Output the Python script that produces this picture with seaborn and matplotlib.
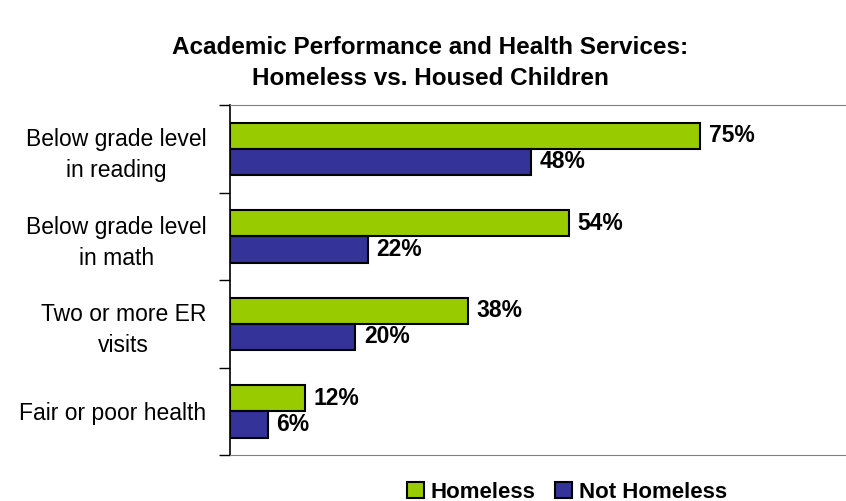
import pandas as pd
import matplotlib.pyplot as plt
import seaborn as sns

# Chart data
categories = ['Below grade level\nin reading', 'Below grade level\nin math',
              'Two or more ER\nvisits', 'Fair or poor health']
homeless = [75, 54, 38, 12]
not_homeless = [48, 22, 20, 6]
series_names = ['Homeless', 'Not Homeless']
colors = ['#99CC00', '#333399']

df = pd.DataFrame({
    'category': categories * 2,
    'value': homeless + not_homeless,
    'group': [series_names[0]] * len(categories) + [series_names[1]] * len(categories),
})

sns.set_style('white')
plt.rcParams['font.family'] = ['Liberation Sans', 'DejaVu Sans']
plt.rcParams['text.color'] = 'black'
plt.rcParams['ytick.color'] = 'black'
plt.rcParams['ytick.labelcolor'] = 'black'

fig = plt.figure(figsize=(8.46, 5.01), dpi=100)
ax = fig.add_axes([230 / 846, 1 - 455 / 501, 1 - 230 / 846, 350 / 501])

sns.barplot(data=df, y='category', x='value', hue='group', orient='h',
            palette=colors, width=0.6, edgecolor='black', linewidth=1.5,
            saturation=1, ax=ax, legend=True)

# value labels
for cont in ax.containers:
    ax.bar_label(cont, labels=[f'{v:.0f}%' for v in cont.datavalues],
                 padding=6, fontsize=16.5, fontweight='bold', color='black')

ax.set_xlim(0, 98.2)
ax.set_ylim(3.5, -0.5)
ax.set_xlabel('')
ax.set_ylabel('')
ax.set_xticks([])

# category ticks between groups, labels centered
ax.set_yticks([-0.5, 0.5, 1.5, 2.5, 3.5])
ax.set_yticklabels([])
ax.tick_params(axis='y', which='major', left=True, length=8, width=1, color='black')
ax.set_yticks(range(len(categories)), minor=True)
ax.set_yticklabels(categories, minor=True, fontsize=16.5, multialignment='center',
                   linespacing=1.45, color='black')
ax.tick_params(axis='y', which='minor', left=False, pad=15)

ax.spines['left'].set_color('black')
ax.spines['left'].set_linewidth(1.2)
ax.spines['top'].set_color('#808080')
ax.spines['bottom'].set_color('#808080')
ax.spines['right'].set_visible(False)

fig.text(430 / 846, 1 - 63 / 501,
         'Academic Performance and Health Services:\nHomeless vs. Housed Children',
         fontsize=17.5, fontweight='bold', ha='center', va='center',
         multialignment='center', linespacing=1.4, color='black')

handles, labels = ax.get_legend_handles_labels()
ax.legend(handles, labels, loc='center', bbox_to_anchor=(567 / 846, 1 - 492 / 501),
          bbox_transform=fig.transFigure, ncol=2, frameon=False,
          handlelength=0.75, handleheight=0.75, handletextpad=0.3, columnspacing=0.9,
          prop={'weight': 'bold', 'size': 16}, labelcolor='black')

fig.savefig('out.png', dpi=100)
